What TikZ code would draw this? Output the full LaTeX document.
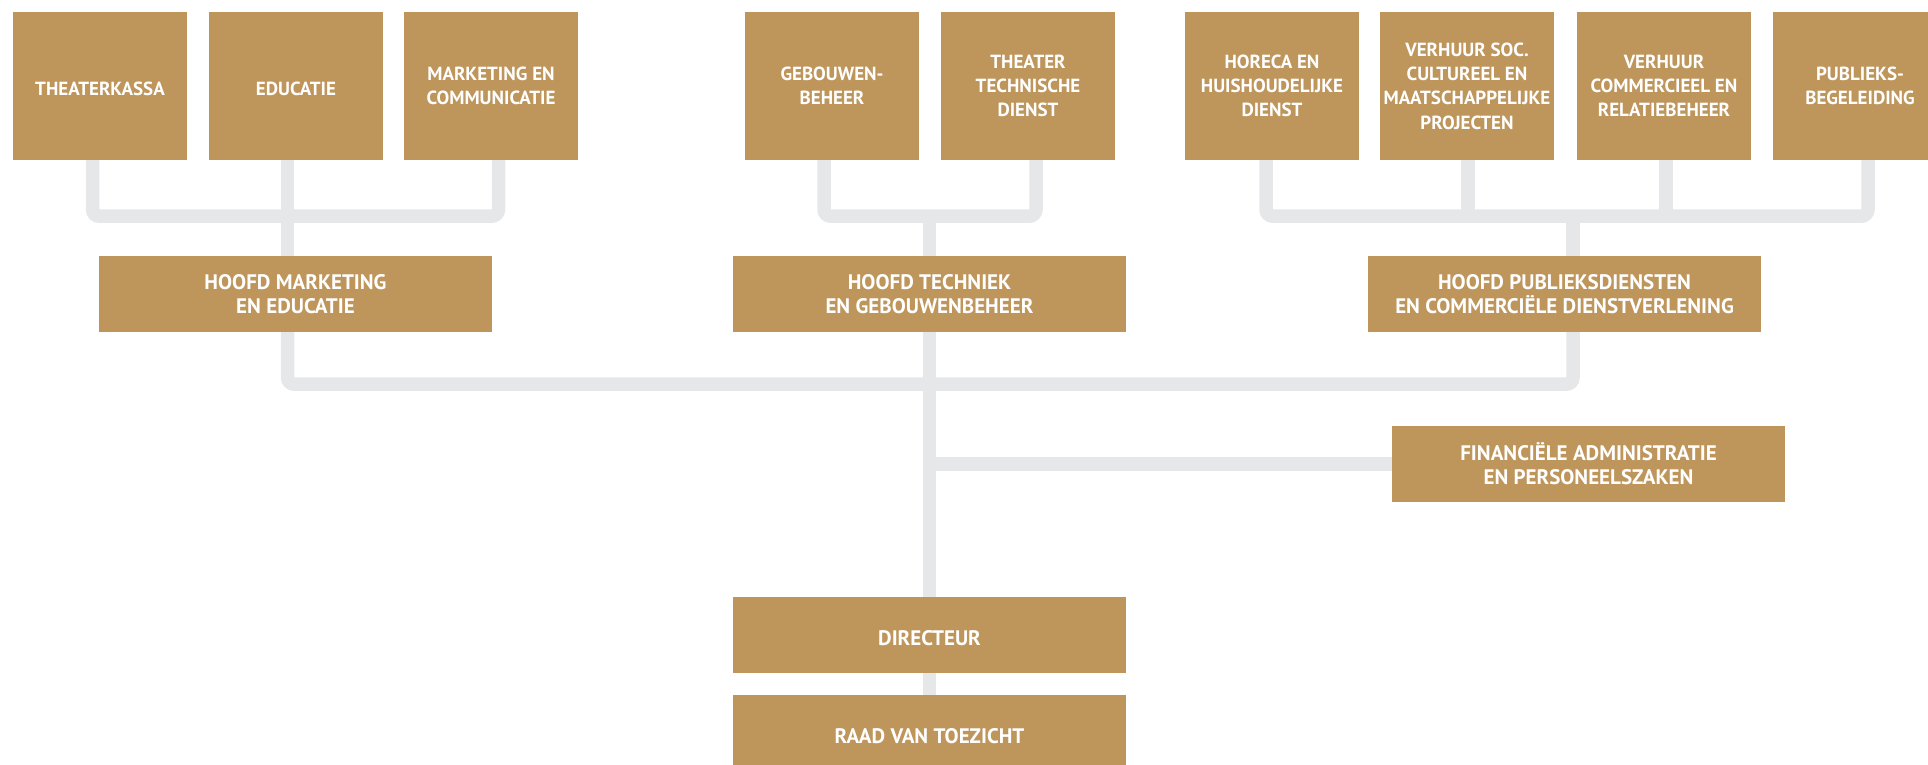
\documentclass[tikz,border=0pt]{standalone}
\usepackage{fontspec}
\setmainfont{PT Sans}
\usetikzlibrary{calc}
\definecolor{gold}{HTML}{BE955B}
\definecolor{linegray}{HTML}{E6E7E8}
\pgfdeclarelayer{bg}
\pgfsetlayers{bg,main}
\tikzset{
  box/.style={rectangle, fill=gold, text=white, inner sep=0pt, align=center, font=\bfseries\fontsize{19}{24.3}\selectfont},
  topbox/.style={box, minimum width=174pt, minimum height=148pt, execute at begin node={\rule{0pt}{19.5pt}}},
  headbox/.style={box, minimum width=393pt, minimum height=76pt, font=\bfseries\fontsize{21}{24}\selectfont},
  onebox/.style={headbox, execute at begin node={\rule{0pt}{22pt}}},
  conn/.style={draw=linegray, line width=13.5pt, rounded corners=6.75pt, line cap=butt}
}
\begin{document}
\begin{tikzpicture}[x=1pt,y=-1pt]
\useasboundingbox (0,0) rectangle (1928,765);
% top row
\node[topbox] (kassa) at (100,86) {THEATERKASSA};
\node[topbox] (edu) at (296,86) {EDUCATIE};
\node[topbox] (mark) at (491,86) {MARKETING EN\\COMMUNICATIE};
\node[topbox] (geb) at (832,86) {GEBOUWEN-\\BEHEER};
\node[topbox] (ttd) at (1028,86) {THEATER\\TECHNISCHE\\DIENST};
\node[topbox] (horeca) at (1272,86) {HORECA EN\\HUISHOUDELIJKE\\DIENST};
\node[topbox] (vsoc) at (1467,86) {VERHUUR SOC.\\CULTUREEL EN\\MAATSCHAPPELIJKE\\PROJECTEN};
\node[topbox] (vcom) at (1664,86) {VERHUUR\\COMMERCIEEL EN\\RELATIEBEHEER};
\node[topbox] (pub) at (1860,86) {PUBLIEKS-\\BEGELEIDING};
% heads
\node[headbox] (hmark) at (295.5,294) {HOOFD MARKETING\\EN EDUCATIE};
\node[headbox] (htech) at (929.5,294) {HOOFD TECHNIEK\\EN GEBOUWENBEHEER};
\node[headbox] (hpub) at (1564.5,294) {HOOFD PUBLIEKSDIENSTEN\\EN COMMERCIËLE DIENSTVERLENING};
\node[headbox] (fin) at (1588.5,464) {FINANCIËLE ADMINISTRATIE\\EN PERSONEELSZAKEN};
\node[onebox] (dir) at (929.5,635) {DIRECTEUR};
\node[onebox] (raad) at (929.5,733) {RAAD VAN TOEZICHT};
\begin{pgfonlayer}{bg}
% left group
\draw[conn] ([xshift=-7.5pt]kassa.south) -- ++(0,56) -| ([xshift=7.5pt]mark.south);
\draw[conn] ([xshift=-8.5pt]edu.south) -- ([xshift=-8pt]hmark.north);
% middle group
\draw[conn] ([xshift=-8pt]geb.south) -- ++(0,56) -| ([xshift=8pt]ttd.south);
\draw[conn] (htech.north) -- ++(0,-40);
% right group
\draw[conn] ([xshift=-6pt]horeca.south) -- ++(0,56) -| ([xshift=8pt]pub.south);
\draw[conn] ([xshift=1pt]vsoc.south) -- ++(0,56);
\draw[conn] ([xshift=2pt]vcom.south) -- ++(0,56);
\draw[conn] ([xshift=8.5pt]hpub.north) -- ++(0,-40);
% main
\draw[conn] ([xshift=-8pt]hmark.south) -- ++(0,52) -| ([xshift=8.5pt]hpub.south);
\draw[conn] (htech.south) -- (raad.north);
\draw[conn] (htech.south |- fin.west) -- (fin.west);
\end{pgfonlayer}
\end{tikzpicture}
\end{document}
